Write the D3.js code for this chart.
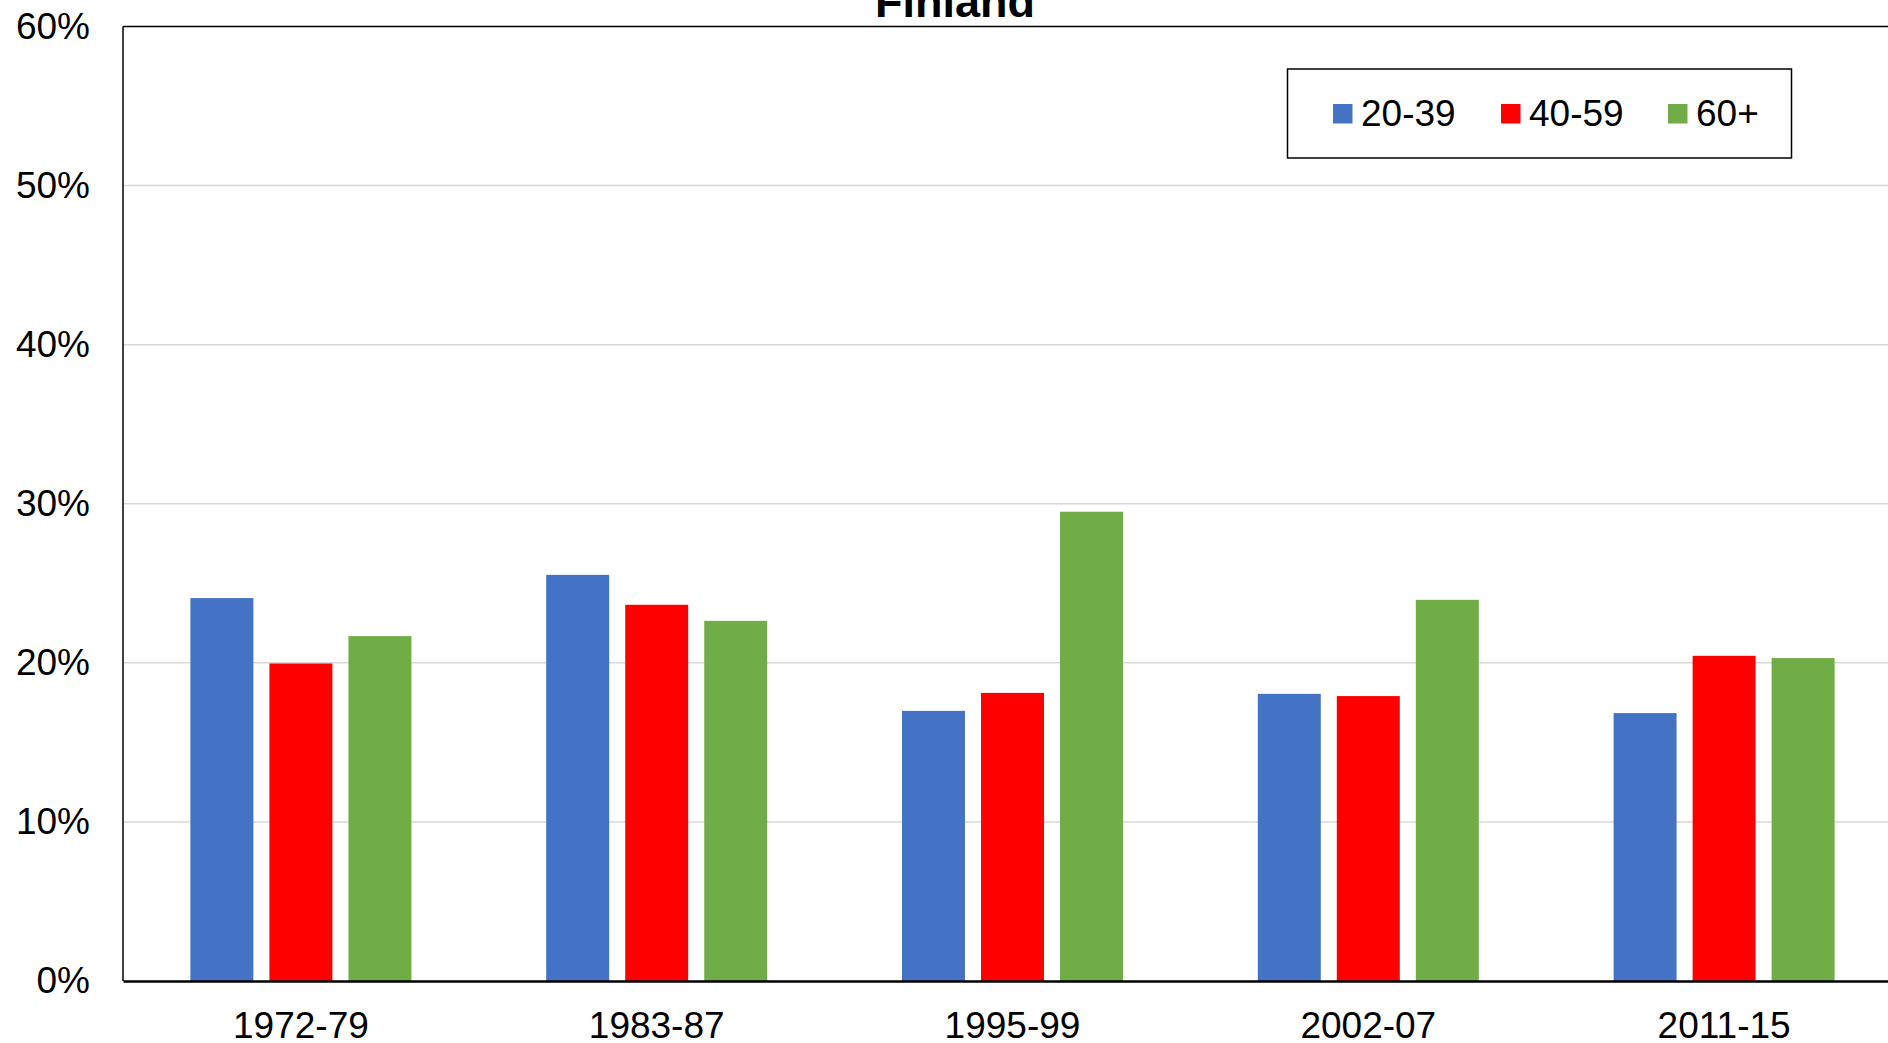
<!DOCTYPE html>
<html>
<head>
<meta charset="utf-8">
<script src="https://cdn.jsdelivr.net/npm/d3@7"></script>
<style>
  html, body { margin: 0; padding: 0; background: #fff; overflow: hidden; }
  svg { display: block; font-family: "Liberation Sans", Arial, sans-serif; }
</style>
</head>
<body>
<svg id="chart" width="1888" height="1043"></svg>
<script>
const title = "Finland";
const categories = ["1972-79", "1983-87", "1995-99", "2002-07", "2011-15"];
const seriesNames = ["20-39", "40-59", "60+"];
const seriesColors = ["#4472C4", "#FF0000", "#70AD47"];
const values_20_39 = [24.07, 25.53, 16.98, 18.05, 16.84];
const values_40_59 = [19.96, 23.65, 18.11, 17.91, 20.44];
const values_60plus = [21.68, 22.64, 29.50, 23.96, 20.30];
const yTicks = [0, 10, 20, 30, 40, 50, 60];

(function () {
const seriesValues = [values_20_39, values_40_59, values_60plus];
const data = categories.map((c, i) => ({
  cat: c,
  vals: seriesNames.map((s, j) => ({ key: s, value: seriesValues[j][i], color: seriesColors[j] }))
}));

const svg = d3.select("#chart");
const pLeft = 123, pRight = 1902, pTop = 26.5, pBottom = 981;
const fs = 37;

const x0 = d3.scaleBand().domain(categories).range([pLeft, pRight]).padding(0);
const outer = 67.4;
const x1 = d3.scaleBand().domain(seriesNames)
  .range([outer, x0.bandwidth() - outer]).paddingInner(0.203);
const y = d3.scaleLinear().domain([0, 60]).range([pBottom, pTop]);

// gridlines
svg.append("g").selectAll("line").data(yTicks.filter(t => t > 0 && t < 60)).join("line")
  .attr("x1", pLeft).attr("x2", pRight)
  .attr("y1", d => y(d)).attr("y2", d => y(d))
  .attr("stroke", "#d9d9d9").attr("stroke-width", 1.5);

// bars
const groups = svg.append("g").selectAll("g").data(data).join("g")
  .attr("transform", d => `translate(${x0(d.cat)},0)`);
groups.selectAll("rect").data(d => d.vals).join("rect")
  .attr("x", d => x1(d.key))
  .attr("width", x1.bandwidth())
  .attr("y", d => y(d.value))
  .attr("height", d => y(0) - y(d.value))
  .attr("fill", d => d.color);

// plot border (top and left)
svg.append("line").attr("x1", pLeft).attr("x2", pRight).attr("y1", pTop).attr("y2", pTop)
  .attr("stroke", "#000").attr("stroke-width", 1.5);
svg.append("line").attr("x1", pLeft).attr("x2", pLeft).attr("y1", pTop).attr("y2", pBottom)
  .attr("stroke", "#000").attr("stroke-width", 1.5);

// y axis
const yAxis = d3.axisLeft(y).tickValues(yTicks).tickFormat(d => d + "%").tickSize(0).tickPadding(33);
const gy = svg.append("g").attr("transform", `translate(${pLeft},0)`).call(yAxis);
gy.select(".domain").remove();
gy.selectAll("text").attr("font-size", fs).attr("fill", "#000")
  .attr("font-family", "Liberation Sans, Arial, sans-serif");

// x axis
const xAxis = d3.axisBottom(x0).tickSize(0).tickPadding(0);
const gx = svg.append("g").attr("transform", `translate(0,${pBottom})`).call(xAxis);
gx.select(".domain").attr("stroke", "#000").attr("stroke-width", 2.5);
gx.selectAll("text").attr("font-size", fs).attr("fill", "#000")
  .attr("dy", null).attr("y", 57)
  .attr("font-family", "Liberation Sans, Arial, sans-serif");

// title
svg.append("text").attr("x", 955).attr("y", 17).attr("text-anchor", "middle")
  .attr("font-size", 45).attr("font-weight", "bold").attr("fill", "#000").text(title);

// legend
const legend = svg.append("g");
legend.append("rect").attr("x", 1287.5).attr("y", 69).attr("width", 504).attr("height", 89)
  .attr("fill", "#fff").attr("stroke", "#000").attr("stroke-width", 1.5);
const legendX = [1333, 1501, 1668];
const items = legend.selectAll("g.item").data(seriesNames).join("g").attr("class", "item")
  .attr("transform", (d, i) => `translate(${legendX[i]},0)`);
items.append("rect").attr("x", 0).attr("y", 104).attr("width", 19.5).attr("height", 19.5)
  .attr("fill", (d, i) => seriesColors[i]);
items.append("text").attr("x", 28).attr("y", 126).attr("font-size", fs).attr("fill", "#000")
  .text(d => d);
})();
</script>
</body>
</html>
